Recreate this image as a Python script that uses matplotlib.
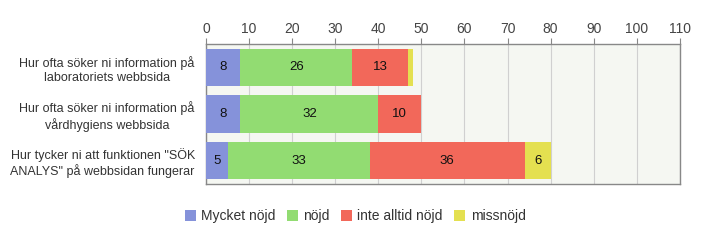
import numpy as np
import matplotlib.pyplot as plt

plt.rcParams['font.family'] = ['Liberation Sans', 'DejaVu Sans']

categories = ['Hur ofta söker ni information på\nlaboratoriets webbsida',
              'Hur ofta söker ni information på\nvårdhygiens webbsida',
              'Hur tycker ni att funktionen "SÖK\nANALYS" på webbsidan fungerar']
series_names = ['Mycket nöjd', 'nöjd', 'inte alltid nöjd', 'missnöjd']
mycket_nojd = [8, 8, 5]
nojd = [26, 32, 33]
inte_alltid = [13, 10, 36]
missnojd = [1, 0, 6]
colors = ['#8592da', '#92dc72', '#f2685a', '#e4e050']

values = [mycket_nojd, nojd, inte_alltid, missnojd]

fig = plt.figure(figsize=(7.03, 2.48), dpi=100)
ax = fig.add_axes([0.293, 0.258, 0.674, 0.565])
ax.set_facecolor('#f5f7f2')

y = np.arange(len(categories))
left = np.zeros(len(categories))
for name, vals, c in zip(series_names, values, colors):
    bars = ax.barh(y, vals, left=left, height=0.8, color=c, label=name, zorder=3)
    for b, v in zip(bars, vals):
        if v >= 2:
            ax.text(b.get_x() + b.get_width() / 2, b.get_y() + b.get_height() / 2, str(v),
                    ha='center', va='center', fontsize=9.5, color='#111111', zorder=4)
    left += np.array(vals)

ax.set_xlim(0, 110)
ax.set_ylim(2.5, -0.5)
ax.set_xticks(range(0, 111, 10))
ax.xaxis.tick_top()
ax.tick_params(axis='x', colors='#888888', labelcolor='#444444', labelsize=10, length=4, pad=2)
ax.set_yticks(y)
ax.set_yticklabels(categories, fontsize=9, color='#333333', multialignment='center')
ax.tick_params(axis='y', length=0, pad=8)
ax.grid(axis='x', color='#d0d0d0', linewidth=0.8, zorder=0)
for s in ax.spines.values():
    s.set_color('#888888')
    s.set_linewidth(1.0)

fig.legend(loc='lower center', bbox_to_anchor=(0.505, 0.05), ncol=4, frameon=False,
           fontsize=10, handlelength=0.8, handleheight=0.8, handletextpad=0.4,
           columnspacing=0.8, labelcolor='#333333')

fig.savefig('out.png', dpi=100)
